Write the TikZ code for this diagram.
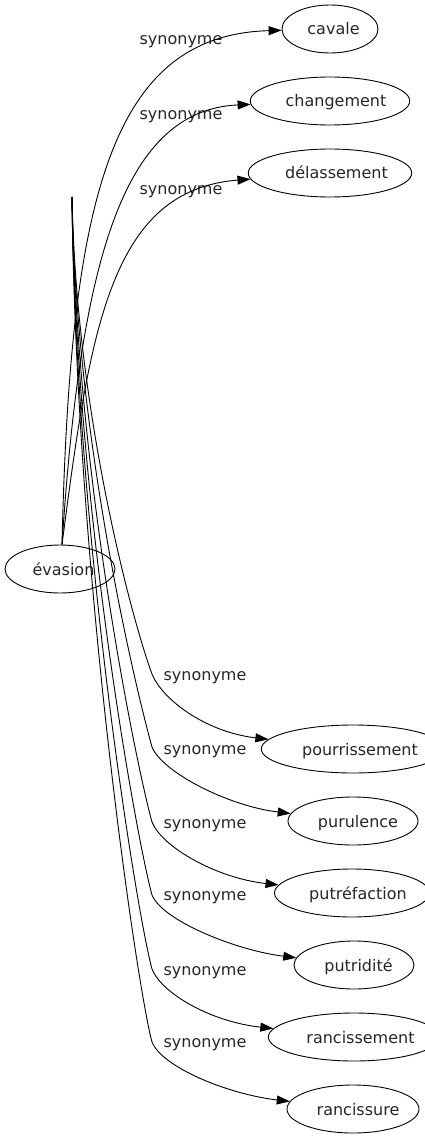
\documentclass[tikz,border=0pt]{standalone}
\usepackage{fontspec}
\setmainfont{DejaVu Sans}
\usetikzlibrary{shapes.geometric,arrows.meta}
\newcommand\toff[1]{\hspace*{#1pt}}
\begin{document}
\begin{tikzpicture}[x=1pt,y=-1pt,
  word/.style={ellipse,draw,line width=0.9pt,inner sep=0pt,minimum height=48pt,
    minimum width=#1,text height=15pt,text depth=3pt,
    font=\fontsize{16}{19}\selectfont,text=black!85},
  lab/.style={anchor=base,inner sep=0pt,font=\fontsize{16}{19}\selectfont,text=black!85},
  syn/.style={line width=0.9pt,-{Triangle[length=13pt,width=9pt]}}]
\useasboundingbox (0,0) rectangle (425,1139);

% nodes
\node[word=110pt] (ev) at (60,569) {\toff{7}évasion};
\node[word=96pt]  (cav) at (330,29) {\toff{7}cavale};
\node[word=154pt] (chg) at (330,101) {\toff{12}changement};
\node[word=156pt] (del) at (330,173) {\toff{13}délassement};
\node[word=176pt] (pour) at (353,749) {\toff{14}pourrissement};
\node[word=130pt] (puru) at (353,821) {\toff{10}purulence};
\node[word=152pt] (putre) at (352,893) {\toff{12}putréfaction};
\node[word=120pt] (putri) at (354,965) {\toff{9}putridité};
\node[word=164pt] (rancm) at (354,1037) {\toff{13}rancissement};
\node[word=132pt] (rancs) at (353,1109) {\toff{10}rancissure};

\coordinate (src) at (72,197);

% labels
\node[lab] (s1) at (181,45) {synonyme};
\node[lab] (s2) at (181,120) {synonyme};
\node[lab] (s3) at (181,195) {synonyme};
\node[lab] (s4) at (205,680) {synonyme};
\node[lab] (s5) at (205,754) {synonyme};
\node[lab] (s6) at (205,828) {synonyme};
\node[lab] (s7) at (205,900) {synonyme};
\node[lab] (s8) at (205,975) {synonyme};
\node[lab] (s9) at (205,1047) {synonyme};

% upper edges
\draw[syn] ([xshift=2pt]ev.north) .. controls (70,200) and (110,35) .. (cav);
\draw[syn] ([xshift=2pt]ev.north) .. controls (80,270) and (120,110) .. (chg);
\draw[syn] ([xshift=2pt]ev.north) .. controls (90,330) and (110,190) .. (del);

% lower edges
\draw[syn] (src) .. controls (76,412) and (132,620) .. (152,674)
  .. controls (162,699) and (205,732) .. (pour);
\draw[syn] (src) .. controls (76,445) and (138,697) .. (152,747)
  .. controls (162,772) and (228,806) .. (puru);
\draw[syn] (src) .. controls (76,478) and (138,772) .. (152,822)
  .. controls (162,847) and (216,878) .. (putre);
\draw[syn] (src) .. controls (76,511) and (138,845) .. (152,895)
  .. controls (162,920) and (234,950) .. (putri);
\draw[syn] (src) .. controls (76,544) and (138,919) .. (152,969)
  .. controls (162,994) and (212,1022) .. (rancm);
\draw[syn] (src) .. controls (76,577) and (138,992) .. (152,1042)
  .. controls (162,1067) and (227,1094) .. (rancs);
\end{tikzpicture}
\end{document}
